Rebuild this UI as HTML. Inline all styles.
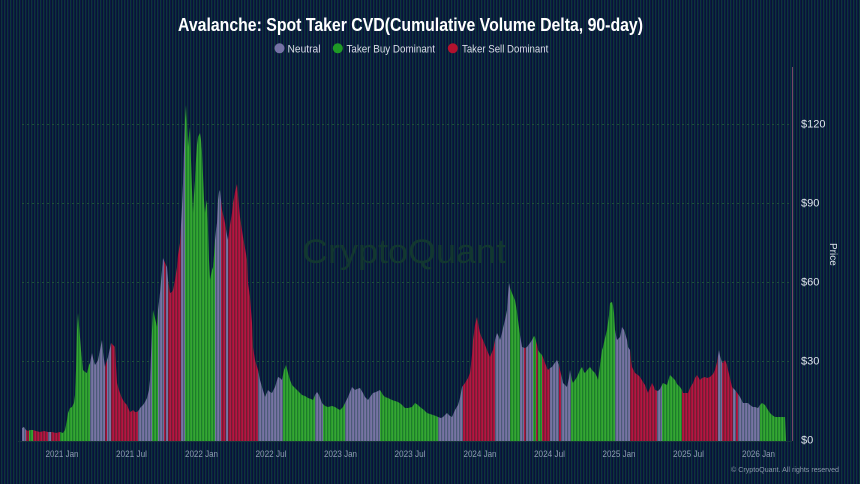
<!DOCTYPE html>
<html>
<head>
<meta charset="utf-8">
<style>
html,body{margin:0;padding:0;width:860px;height:484px;overflow:hidden;}
body{background:repeating-linear-gradient(90deg,#091433 0px,#091433 1px,#0d3539 1px,#0d3539 2px,#0b1b45 2px,#0b1b45 3px);}
svg{display:block;}
text{font-family:"Liberation Sans",sans-serif;}
</style>
</head>
<body>
<svg width="860" height="484" viewBox="0 0 860 484" xmlns="http://www.w3.org/2000/svg">
<defs>
<pattern id="st" width="3" height="10" patternUnits="userSpaceOnUse">
<rect x="0" y="0" width="1" height="10" fill="rgba(10,60,50,0.35)"/>
<rect x="2" y="0" width="1" height="10" fill="rgba(255,255,255,0.06)"/>
</pattern>
<clipPath id="area">
<polygon points="22,441 22,428 24,427 26,430 28,431 30,430 33,430 36,431 40,432 44,431 48,432 52,432 56,433 60,432 63,433 65,430 67,420 68,413 70,408 72,407 74,403 75,395 76,370 77,330 78,313 79,325 80,337 81,350 83,370 85,372 87,373 89,365 90,363 92,353 93,358 95,365 97,362 98,360 100,350 102,340 103,352 105,367 107,360 108,357 110,348 111,343 113,345 115,347 116,365 117,383 119,390 120,393 122,398 123,400 125,403 127,405 129,410 130,412 132,411 133,410 135,412 137,412 139,410 140,408 142,406 143,405 145,402 147,398 149,390 150,380 151,355 152,330 153,310 155,318 157,327 158,310 160,293 162,270 163,258 165,263 167,267 168,280 170,293 172,292 173,290 175,280 177,267 178,255 180,243 181,225 182,207 183,183 184,150 185,120 186,105 187,125 188,147 189,135 190,127 191,160 192,190 193,213 194,195 195,180 196,160 197,145 198,137 199,135 200,133 201,140 202,153 203,175 204,200 205,213 206,205 207,200 208,230 209,260 210,280 211,275 212,270 213,267 214,255 215,240 216,230 217,223 218,200 219,192 220,190 221,200 222,210 224,218 225,223 227,235 228,240 230,225 232,213 233,203 235,192 237,184 238,195 240,217 242,230 243,237 245,248 247,260 248,283 250,297 252,323 253,347 255,360 258,370 260,380 262,387 265,397 268,390 270,392 272,393 275,387 278,377 280,378 282,380 284,370 286,365 288,373 290,380 292,385 295,388 298,391 302,395 305,396 308,398 311,399 313,400 315,395 317,392 319,395 322,403 325,406 328,407 332,406 335,407 338,409 340,410 343,407 345,403 348,397 350,392 352,387 355,390 357,389 360,388 363,393 365,397 368,400 370,397 373,393 376,392 380,390 383,395 385,397 388,398 392,400 395,401 398,402 401,404 405,408 408,408 412,407 415,403 418,405 420,407 424,410 427,413 430,414 433,415 436,416 438,417 441,418 443,417 445,415 447,413 450,416 452,417 455,410 458,405 460,398 462,387 465,383 468,378 470,373 472,355 473,340 475,325 477,317 479,328 480,333 482,338 483,340 485,345 487,350 489,355 490,357 492,352 493,350 495,340 497,333 499,337 500,340 502,333 503,328 505,320 507,310 508,295 509,283 510,288 512,293 514,298 515,300 517,312 518,320 520,335 522,347 525,348 527,347 530,343 532,340 534,336 535,337 537,345 538,350 540,353 542,355 544,360 545,363 547,368 548,370 550,368 552,367 554,364 557,360 559,365 560,370 562,378 563,383 565,385 567,387 569,378 570,370 572,380 573,383 575,380 577,377 580,370 582,367 584,372 585,373 588,369 590,367 592,370 595,373 597,377 598,380 600,365 602,350 603,347 605,338 607,330 609,315 610,303 612,302 613,306 614,313 615,330 617,340 619,338 620,337 622,327 624,330 625,333 627,340 628,347 630,350 631,360 632,367 635,373 638,375 640,377 643,382 645,385 648,393 650,388 652,383 654,387 655,390 658,391 660,389 662,385 663,383 665,384 667,385 669,378 670,375 672,377 675,380 677,384 680,387 682,390 683,393 686,393 688,393 690,388 693,383 695,378 697,375 700,380 702,378 705,377 707,378 710,377 713,374 715,370 717,362 718,356 719,350 720,356 722,362 723,363 725,360 727,365 728,370 730,378 732,387 735,390 738,394 740,397 743,403 745,403 748,403 750,405 753,407 755,407 758,408 760,405 762,403 765,405 768,410 770,413 772,415 775,417 777,417 780,417 783,417 785,417 786,441"/>
</clipPath>
</defs>

<!-- gridlines -->
<g stroke="#1f4d3c" stroke-width="1" stroke-dasharray="2,3">
<line x1="22" y1="124.5" x2="792" y2="124.5"/>
<line x1="22" y1="203.5" x2="792" y2="203.5"/>
<line x1="22" y1="282.5" x2="792" y2="282.5"/>
<line x1="22" y1="361.5" x2="792" y2="361.5"/>
</g>

<!-- watermark -->
<text x="302" y="263" font-size="34" fill="#143a30" fill-opacity="0.9" textLength="204" lengthAdjust="spacingAndGlyphs">CryptoQuant</text>

<!-- bars -->
<g clip-path="url(#area)">
<rect x="22" y="60" width="4" height="382" fill="#6e6c9c"/>
<rect x="26" y="60" width="3" height="382" fill="#a80e38"/>
<rect x="29" y="60" width="4" height="382" fill="#2a9e2a"/>
<rect x="33" y="60" width="15" height="382" fill="#a80e38"/>
<rect x="48" y="60" width="3" height="382" fill="#6e6c9c"/>
<rect x="51" y="60" width="9" height="382" fill="#a80e38"/>
<rect x="60" y="60" width="30" height="382" fill="#2a9e2a"/>
<rect x="90" y="60" width="15" height="382" fill="#6e6c9c"/>
<rect x="105" y="60" width="2" height="382" fill="#a80e38"/>
<rect x="107" y="60" width="4" height="382" fill="#6e6c9c"/>
<rect x="111" y="60" width="27" height="382" fill="#a80e38"/>
<rect x="138" y="60" width="14" height="382" fill="#6e6c9c"/>
<rect x="152" y="60" width="6" height="382" fill="#2a9e2a"/>
<rect x="158" y="60" width="6" height="382" fill="#6e6c9c"/>
<rect x="164" y="60" width="2" height="382" fill="#a80e38"/>
<rect x="166" y="60" width="2" height="382" fill="#6e6c9c"/>
<rect x="168" y="60" width="13" height="382" fill="#a80e38"/>
<rect x="181" y="60" width="4" height="382" fill="#6e6c9c"/>
<rect x="185" y="60" width="30" height="382" fill="#2a9e2a"/>
<rect x="215" y="60" width="6" height="382" fill="#6e6c9c"/>
<rect x="221" y="60" width="5" height="382" fill="#a80e38"/>
<rect x="226" y="60" width="2" height="382" fill="#6e6c9c"/>
<rect x="228" y="60" width="30" height="382" fill="#a80e38"/>
<rect x="258" y="60" width="25" height="382" fill="#6e6c9c"/>
<rect x="283" y="60" width="32" height="382" fill="#2a9e2a"/>
<rect x="315" y="60" width="8" height="382" fill="#6e6c9c"/>
<rect x="323" y="60" width="22" height="382" fill="#2a9e2a"/>
<rect x="345" y="60" width="35" height="382" fill="#6e6c9c"/>
<rect x="380" y="60" width="58" height="382" fill="#2a9e2a"/>
<rect x="438" y="60" width="25" height="382" fill="#6e6c9c"/>
<rect x="463" y="60" width="32" height="382" fill="#a80e38"/>
<rect x="495" y="60" width="15" height="382" fill="#6e6c9c"/>
<rect x="510" y="60" width="10" height="382" fill="#2a9e2a"/>
<rect x="520" y="60" width="4" height="382" fill="#6e6c9c"/>
<rect x="524" y="60" width="2" height="382" fill="#a80e38"/>
<rect x="526" y="60" width="7" height="382" fill="#6e6c9c"/>
<rect x="533" y="60" width="3" height="382" fill="#2a9e2a"/>
<rect x="536" y="60" width="2" height="382" fill="#a80e38"/>
<rect x="538" y="60" width="4" height="382" fill="#2a9e2a"/>
<rect x="542" y="60" width="8" height="382" fill="#a80e38"/>
<rect x="550" y="60" width="9" height="382" fill="#6e6c9c"/>
<rect x="559" y="60" width="2" height="382" fill="#a80e38"/>
<rect x="561" y="60" width="10" height="382" fill="#6e6c9c"/>
<rect x="571" y="60" width="44" height="382" fill="#2a9e2a"/>
<rect x="615" y="60" width="15" height="382" fill="#6e6c9c"/>
<rect x="630" y="60" width="27" height="382" fill="#a80e38"/>
<rect x="657" y="60" width="5" height="382" fill="#6e6c9c"/>
<rect x="662" y="60" width="20" height="382" fill="#2a9e2a"/>
<rect x="682" y="60" width="36" height="382" fill="#a80e38"/>
<rect x="718" y="60" width="4" height="382" fill="#6e6c9c"/>
<rect x="722" y="60" width="11" height="382" fill="#a80e38"/>
<rect x="733" y="60" width="3" height="382" fill="#6e6c9c"/>
<rect x="736" y="60" width="2" height="382" fill="#a80e38"/>
<rect x="738" y="60" width="22" height="382" fill="#6e6c9c"/>
<rect x="760" y="60" width="27" height="382" fill="#2a9e2a"/>
<rect x="22" y="60" width="766" height="382" fill="url(#st)"/>
</g>

<!-- baseline -->
<line x1="18" y1="441.5" x2="792" y2="441.5" stroke="#17343c" stroke-width="1"/>

<!-- right price axis line -->
<line x1="792.5" y1="67" x2="792.5" y2="441" stroke="#774766" stroke-width="1"/>

<!-- y labels -->
<g font-size="11" fill="#dfe5ee">
<text x="801" y="127.5">$120</text>
<text x="801" y="206.5">$90</text>
<text x="801" y="285.5">$60</text>
<text x="801" y="364.5">$30</text>
<text x="801" y="443.5">$0</text>
</g>

<!-- axis title -->
<text transform="translate(830,243) rotate(90)" font-size="10" fill="#dfe5ee">Price</text>

<!-- x labels -->
<g font-size="9.5" fill="#8d9cb2" text-anchor="middle">
<text x="62" y="457" textLength="33" lengthAdjust="spacingAndGlyphs">2021 Jan</text>
<text x="131.5" y="457" textLength="31" lengthAdjust="spacingAndGlyphs">2021 Jul</text>
<text x="201.5" y="457" textLength="33" lengthAdjust="spacingAndGlyphs">2022 Jan</text>
<text x="271" y="457" textLength="31" lengthAdjust="spacingAndGlyphs">2022 Jul</text>
<text x="340.5" y="457" textLength="33" lengthAdjust="spacingAndGlyphs">2023 Jan</text>
<text x="410" y="457" textLength="31" lengthAdjust="spacingAndGlyphs">2023 Jul</text>
<text x="480" y="457" textLength="33" lengthAdjust="spacingAndGlyphs">2024 Jan</text>
<text x="549.5" y="457" textLength="31" lengthAdjust="spacingAndGlyphs">2024 Jul</text>
<text x="619" y="457" textLength="33" lengthAdjust="spacingAndGlyphs">2025 Jan</text>
<text x="688.5" y="457" textLength="31" lengthAdjust="spacingAndGlyphs">2025 Jul</text>
<text x="758.5" y="457" textLength="33" lengthAdjust="spacingAndGlyphs">2026 Jan</text>
</g>

<!-- copyright -->
<text x="731" y="472" font-size="7.5" fill="#8a98aa" textLength="108" lengthAdjust="spacingAndGlyphs">© CryptoQuant. All rights reserved</text>

<!-- title -->
<text x="178" y="31" font-size="18" font-weight="bold" fill="#ffffff" textLength="465" lengthAdjust="spacingAndGlyphs">Avalanche: Spot Taker CVD(Cumulative Volume Delta, 90-day)</text>

<!-- legend -->
<circle cx="279.5" cy="48.3" r="5" fill="#7472a4"/>
<text x="287.5" y="52.3" font-size="11" fill="#d8dce8" textLength="33" lengthAdjust="spacingAndGlyphs">Neutral</text>
<circle cx="337.8" cy="48.3" r="5" fill="#1f9a25"/>
<text x="346.5" y="52.3" font-size="11" fill="#d8dce8" textLength="88.5" lengthAdjust="spacingAndGlyphs">Taker Buy Dominant</text>
<circle cx="452.8" cy="48.3" r="5" fill="#b3122e"/>
<text x="462" y="52.3" font-size="11" fill="#d8dce8" textLength="86.3" lengthAdjust="spacingAndGlyphs">Taker Sell Dominant</text>
</svg>
</body>
</html>
